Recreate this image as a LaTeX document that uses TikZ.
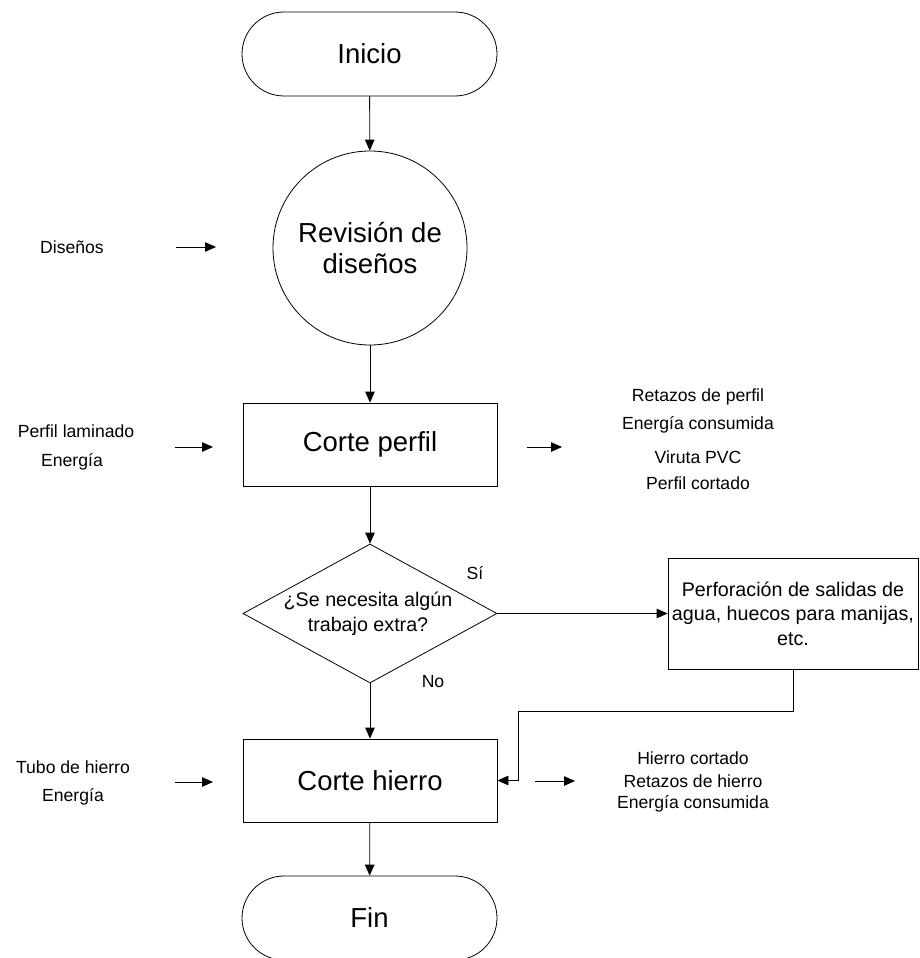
\documentclass[tikz,border=0pt]{standalone}
\usepackage{fontspec}
\setmainfont{Liberation Sans}
\usetikzlibrary{arrows.meta,shapes.geometric}
\begin{document}
\begin{tikzpicture}[x=1pt,y=-1pt,
  line width=0.8pt,
  arr/.style={-{Triangle[length=11pt,width=9.5pt]}},
  big/.style={font=\fontsize{27.5}{31.6}\selectfont, align=center},
  med/.style={font=\fontsize{19.7}{24.5}\selectfont, align=center},
  small/.style={font=\fontsize{17.6}{20}\selectfont, align=center},
  term/.style={draw, rounded corners=42pt, minimum width=255pt, minimum height=84pt, big},
  procbox/.style={draw, minimum width=254pt, minimum height=83pt, big}]
\useasboundingbox (0,0) rectangle (919,958);

% main nodes
\node[term] (inicio) at (369.5,54) {Inicio};
\node[draw, circle, minimum size=194pt, inner sep=0pt, big] (rev) at (370,248) {Revisión de\\diseños};
\node[procbox] (cp) at (370,444.5) {Corte perfil};
\node[draw, diamond, minimum width=254pt, minimum height=139pt, inner sep=0pt] (dec) at (370,613.5) {};
\node[med] (dectext) at (368,614) {¿Se necesita algún\\trabajo extra?};
\node[draw, minimum width=250pt, minimum height=111pt, med] (perf) at (793,613.5) {Perforación de salidas de\\agua, huecos para manijas,\\etc.};
\node[procbox] (ch) at (370,780.5) {Corte hierro};
\node[term] (fin) at (369.5,918) {Fin};

% labels
\node[small] (si) at (475,573) {Sí};
\node[small] (no) at (433,682) {No};

\node[small] (dis) at (72,247) {Diseños};
\node[small] (pl) at (76,431) {Perfil laminado};
\node[small] (en1) at (72,462) {Energía};
\node[small] (o1) at (698,397) {Retazos de perfil};
\node[small] (o2) at (698,425) {Energía consumida};
\node[small] (o3) at (698,457) {Viruta PVC};
\node[small] (o4) at (698,483) {Perfil cortado};
\node[small] (tb) at (73,767) {Tubo de hierro};
\node[small] (en2) at (73,797) {Energía};
\node[small] (h1) at (693,758) {Hierro cortado};
\node[small] (h2) at (693,781) {Retazos de hierro};
\node[small] (h3) at (693,804) {Energía consumida};

% side arrow coordinates
\coordinate (a1s) at (176,247); \coordinate (a1e) at (216,247);
\coordinate (a2s) at (175,447); \coordinate (a2e) at (213,447);
\coordinate (a3s) at (527,447); \coordinate (a3e) at (562,447);
\coordinate (a4s) at (175,782); \coordinate (a4e) at (213,782);
\coordinate (a5s) at (535,781); \coordinate (a5e) at (575,781);
\coordinate (k1) at (518,711);

% connectors
\draw[arr] (inicio) -- (rev);
\draw[arr] (rev) -- (cp);
\draw[arr] (cp) -- (dec.north);
\draw[arr] (dec.east) -- (perf.west);
\draw[arr] (dec.south) -- (ch);
\draw[arr] (perf.south) |- (k1) |- (ch.east);
\draw[arr] (ch) -- (fin);

\draw[arr] (a1s) -- (a1e);
\draw[arr] (a2s) -- (a2e);
\draw[arr] (a3s) -- (a3e);
\draw[arr] (a4s) -- (a4e);
\draw[arr] (a5s) -- (a5e);
\end{tikzpicture}
\end{document}
